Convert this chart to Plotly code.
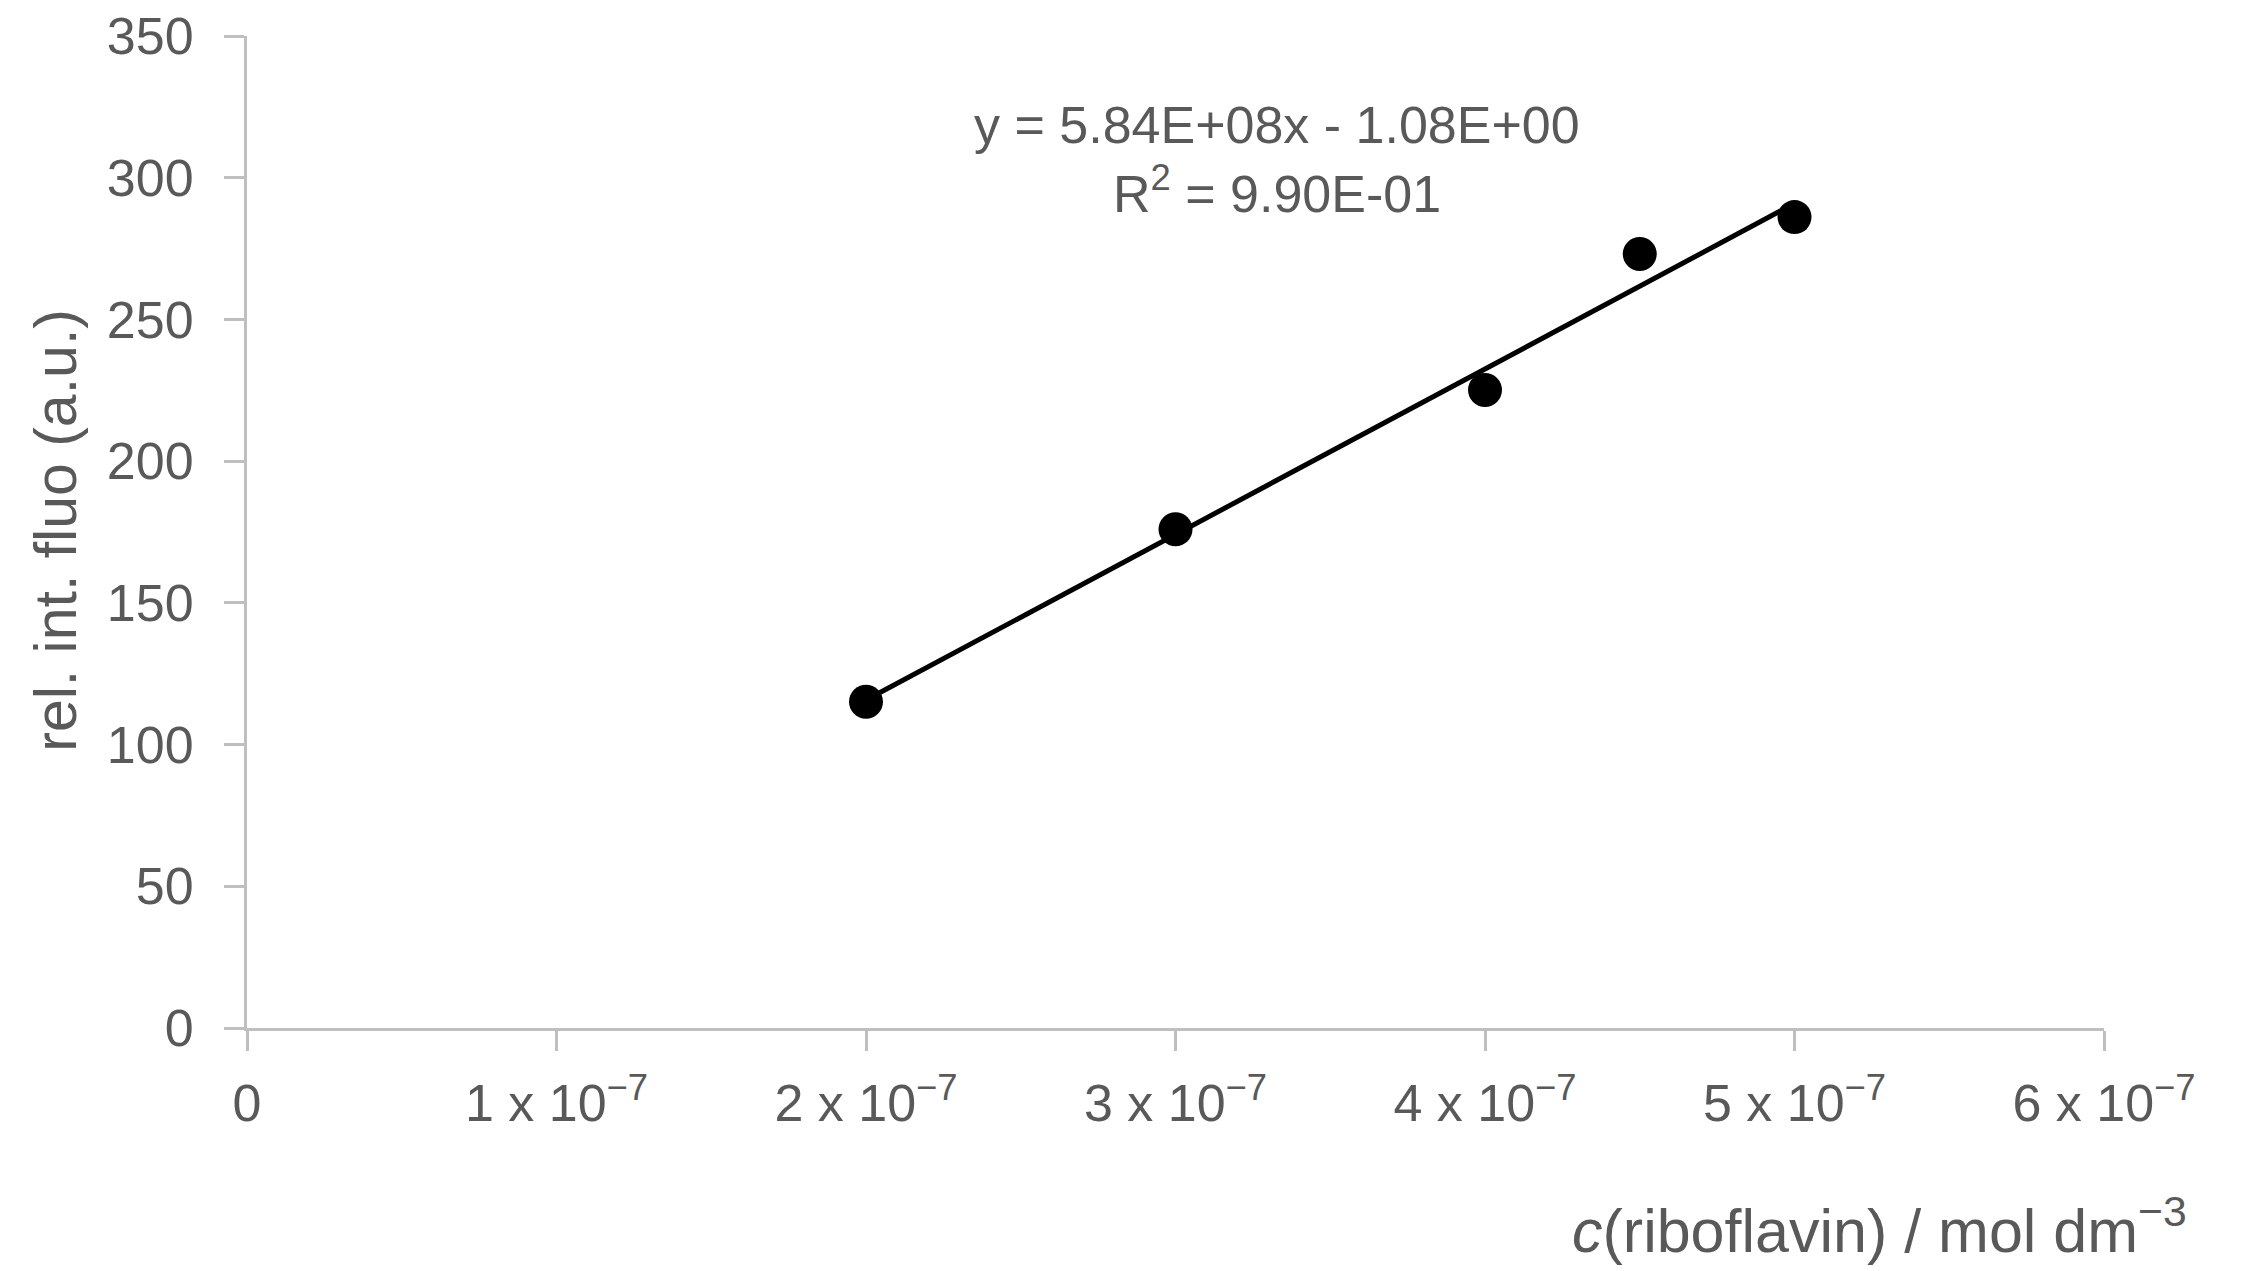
import numpy as np
import plotly.graph_objects as go

# data
conc = [2e-7, 3e-7, 4e-7, 4.5e-7, 5e-7]          # mol dm-3
fluo = [115.1, 176.0, 225.1, 273.1, 286.1]       # rel. int. fluo (a.u.)

# trendline as printed on the chart
slope, intercept = 5.84e8, -1.08
eq_text = "y = 5.84E+08x - 1.08E+00"
r2_text = "R<sup>2</sup> = 9.90E-01"

x_ticks = [0, 1e-7, 2e-7, 3e-7, 4e-7, 5e-7, 6e-7]
x_labels = ["0"] + [f"{k} x 10<sup>\u22127</sup>" for k in range(1, 7)]
y_ticks = [0, 50, 100, 150, 200, 250, 300, 350]

FONT = "Liberation Sans, Arial, sans-serif"
GREY = "#595959"
AXIS = "#bfbfbf"

fit_x = np.array([min(conc), max(conc)])
fit_y = slope * fit_x + intercept

fig = go.Figure()
fig.add_trace(go.Scatter(x=fit_x, y=fit_y, mode="lines",
                         line=dict(color="black", width=5), showlegend=False))
fig.add_trace(go.Scatter(x=conc, y=fluo, mode="markers",
                         marker=dict(color="black", size=34), showlegend=False))

axis_common = dict(showline=True, linecolor=AXIS, linewidth=3,
                   ticks="outside", ticklen=20, tickwidth=3, tickcolor=AXIS,
                   showgrid=False, zeroline=False, automargin=False,
                   ticklabeloverflow="allow",
                   tickfont=dict(family=FONT, size=52, color=GREY))

fig.update_xaxes(range=[0, 6e-7], tickvals=x_ticks, ticktext=x_labels,
                 ticklabelstandoff=8, **axis_common)
fig.update_yaxes(range=[0, 350], tickvals=y_ticks,
                 ticklabelstandoff=20, **axis_common)

# y-axis title
fig.add_annotation(text="rel. int. fluo (a.u.)", textangle=-90,
                   xref="paper", yref="paper", x=-0.103, y=0.502,
                   xanchor="center", yanchor="middle", showarrow=False,
                   font=dict(family=FONT, size=59, color=GREY))
# x-axis title, right aligned like the original
fig.add_annotation(text="<i>c</i>(riboflavin) / mol dm<sup>\u22123</sup>",
                   xref="paper", yref="paper", x=1.046, y=-0.200,
                   xanchor="right", yanchor="middle", showarrow=False,
                   font=dict(family=FONT, size=61, color=GREY))
# regression label
fig.add_annotation(text=eq_text, xref="paper", yref="paper", x=0.5547, y=0.9103,
                   xanchor="center", yanchor="middle", showarrow=False,
                   font=dict(family=FONT, size=52, color=GREY))
fig.add_annotation(text=r2_text, xref="paper", yref="paper", x=0.5547, y=0.8448,
                   xanchor="center", yanchor="middle", showarrow=False,
                   font=dict(family=FONT, size=52, color=GREY))

# page body has an 8px margin, so the figure is 8px smaller and offset
fig.update_layout(width=2247, height=1263,
                  margin=dict(l=239, r=151, t=28, b=243),
                  paper_bgcolor="white", plot_bgcolor="white")

fig.write_html("out.html")
